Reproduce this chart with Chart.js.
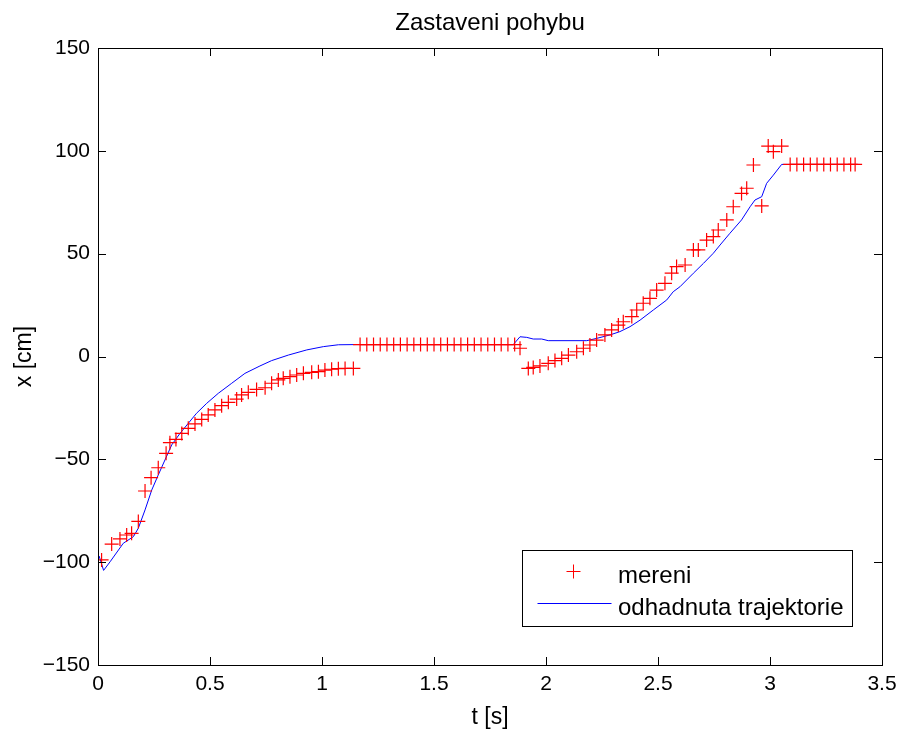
<!DOCTYPE html>
<html>
<head>
<meta charset="utf-8">
<script src="https://cdn.jsdelivr.net/npm/chart.js@4/dist/chart.umd.min.js"></script>
<style>
  html, body { margin: 0; padding: 0; background: #fff; }
  #wrap { width: 899px; height: 729px; }
</style>
</head>
<body>
<div id="wrap"><canvas id="c" width="899" height="729"></canvas></div>
<script>
// measured positions (mereni)
var measT = [0.016, 0.061, 0.098, 0.128, 0.150, 0.180, 0.210, 0.237, 0.269, 0.304, 0.321, 0.348, 0.374, 0.403, 0.433,
  0.463, 0.492, 0.522, 0.552, 0.582, 0.619, 0.641, 0.671, 0.708, 0.746, 0.775, 0.805, 0.827, 0.857, 0.887,
  0.917, 0.954, 0.984, 1.013, 1.043, 1.073, 1.103, 1.140,
  1.17, 1.20, 1.23, 1.26, 1.29, 1.32, 1.35, 1.38, 1.41, 1.44, 1.47, 1.50, 1.53, 1.56, 1.59, 1.62, 1.65, 1.68,
  1.71, 1.74, 1.77, 1.80, 1.83, 1.86, 1.884,
  1.921, 1.943, 1.973, 2.010, 2.040, 2.070, 2.100, 2.137, 2.167, 2.196, 2.226, 2.263, 2.293, 2.323, 2.345,
  2.383, 2.405, 2.434, 2.464, 2.494, 2.531, 2.561, 2.583, 2.621, 2.658, 2.680, 2.717, 2.747, 2.769, 2.807,
  2.836, 2.873, 2.896, 2.926, 2.963, 2.992, 3.015, 3.052,
  3.09, 3.12, 3.15, 3.18, 3.21, 3.24, 3.27, 3.30, 3.33, 3.36, 3.38];
var measX = [-98.9, -91.2, -88.7, -86.8, -86.0, -80.2, -65.4, -58.9, -54.1, -47.1, -41.9, -40.3, -37.4, -34.9, -32.8,
  -30.6, -28.4, -26.0, -23.9, -22.3, -20.7, -18.7, -17.4, -16.0, -15.2, -13.0, -11.4, -10.6, -9.8, -9.0,
  -8.2, -7.7, -7.4, -6.6, -6.2, -5.9, -5.8, -5.8,
  5.8, 5.8, 5.8, 5.8, 5.8, 5.8, 5.8, 5.8, 5.8, 5.8, 5.8, 5.8, 5.8, 5.8, 5.8, 5.8, 5.8, 5.8,
  5.8, 5.8, 5.8, 5.8, 5.8, 5.8, 4.0,
  -5.8, -5.3, -4.6, -3.3, -2.0, -0.9, 0.7, 2.3, 4.0, 5.6, 8.0, 10.5, 12.9, 15.3, 16.9,
  19.4, 22.6, 25.9, 28.3, 32.3, 35.6, 40.5, 43.7, 44.5, 51.8, 51.8, 56.6, 58.3, 61.5, 66.4,
  72.8, 79.3, 81.8, 93.1, 73.2, 102.3, 99.6, 102.3,
  93.4, 93.4, 93.4, 93.4, 93.4, 93.4, 93.4, 93.4, 93.4, 93.4, 93.4];

// estimated trajectory (odhadnuta trajektorie)
var estT = [0.005, 0.025, 0.054, 0.113, 0.158, 0.180, 0.210, 0.240, 0.269, 0.299, 0.329, 0.366, 0.403, 0.440,
  0.485, 0.537, 0.597, 0.656, 0.723, 0.775, 0.850, 0.932, 1.006, 1.073, 1.155, 1.854, 1.884, 1.914, 1.943,
  1.981, 2.010, 2.182, 2.226, 2.286, 2.330, 2.375, 2.420, 2.479, 2.539, 2.568, 2.598, 2.658, 2.703, 2.747,
  2.777, 2.821, 2.873, 2.911, 2.933, 2.963, 2.985, 3.015, 3.052, 3.400];
var estX = [-97, -104, -99.8, -90.8, -87.6, -83.5, -74.6, -64.9, -57.6, -50.3, -43.0, -37.4, -32.5, -27.6,
  -22.8, -17.9, -13.0, -8.2, -4.6, -2.0, 0.7, 3.2, 4.8, 5.7, 5.8, 5.8, 9.6, 9.3, 8.5,
  8.5, 7.7, 7.7, 8.8, 10.5, 12.1, 14.5, 17.7, 22.6, 27.5, 31.5, 33.9, 40.5, 45.3, 50.2,
  54.2, 59.9, 66.4, 72.8, 76.1, 77.7, 84.2, 88.2, 93.4, 93.4];

var seriesNames = ["mereni", "odhadnuta trajektorie"];
var chartTitle = "Zastaveni pohybu";
var xRange = [0, 3.5], xStep = 0.5;
var yRange = [-150, 150], yStep = 50;

var FONT = "'Liberation Sans', Arial, sans-serif";

function pairs(xs, ys) {
  return xs.map(function (v, i) { return { x: v, y: ys[i] }; });
}

// MATLAB style: title, box with inward ticks on all four sides, legend inside
var matlabBox = {
  id: "matlabBox",
  afterDraw: function (chart) {
    var ctx = chart.ctx, a = chart.chartArea;
    var xs = chart.scales.x, ys = chart.scales.y;
    var len = 8;
    ctx.save();

    ctx.fillStyle = "#000";
    ctx.font = "24px " + FONT;
    ctx.textAlign = "center";
    ctx.textBaseline = "middle";
    ctx.fillText(chartTitle, (a.left + a.right) / 2, 23);

    ctx.strokeStyle = "#000";
    ctx.lineWidth = 1;
    ctx.beginPath();
    xs.ticks.forEach(function (t) {
      var px = Math.round(xs.getPixelForValue(t.value)) + 0.5;
      ctx.moveTo(px, a.bottom); ctx.lineTo(px, a.bottom - len);
      ctx.moveTo(px, a.top); ctx.lineTo(px, a.top + len);
    });
    ys.ticks.forEach(function (t) {
      var py = Math.round(ys.getPixelForValue(t.value)) + 0.5;
      ctx.moveTo(a.left, py); ctx.lineTo(a.left + len, py);
      ctx.moveTo(a.right, py); ctx.lineTo(a.right - len, py);
    });
    ctx.stroke();
    ctx.strokeRect(Math.round(a.left) + 0.5, Math.round(a.top) + 0.5,
      Math.round(a.right - a.left), Math.round(a.bottom - a.top));

    // legend box
    var bw = 330, bh = 76;
    var bx = Math.round(a.right - 30 - bw) + 0.5, by = Math.round(a.bottom - 39 - bh) + 0.5;
    ctx.fillStyle = "#fff";
    ctx.fillRect(bx, by, bw, bh);
    ctx.strokeRect(bx, by, bw, bh);
    ctx.strokeStyle = "#ff0000";
    ctx.beginPath();
    ctx.moveTo(bx + 44, by + 21); ctx.lineTo(bx + 58, by + 21);
    ctx.moveTo(bx + 51, by + 14); ctx.lineTo(bx + 51, by + 28);
    ctx.stroke();
    ctx.strokeStyle = "#0000ff";
    ctx.beginPath();
    ctx.moveTo(bx + 15, by + 53); ctx.lineTo(bx + 89, by + 53);
    ctx.stroke();
    ctx.fillStyle = "#000";
    ctx.font = "24px " + FONT;
    ctx.textBaseline = "alphabetic";
    ctx.textAlign = "left";
    ctx.fillText(seriesNames[0], bx + 95.5, by + 32);
    ctx.fillText(seriesNames[1], bx + 95.5, by + 64);
    ctx.restore();
  }
};

var fmtTick = function (v) { return String(v).replace("-", "\u2212"); };

new Chart(document.getElementById("c"), {
  type: "scatter",
  data: {
    datasets: [
      {
        label: seriesNames[0],
        data: pairs(measT, measX),
        pointStyle: "cross",
        pointRadius: 7,
        pointHoverRadius: 7,
        pointBorderWidth: 1.2,
        borderColor: "#ff0000",
        backgroundColor: "#ff0000",
        showLine: false,
      },
      {
        label: seriesNames[1],
        data: pairs(estT, estX),
        showLine: true,
        borderColor: "#0000ff",
        borderWidth: 1,
        pointRadius: 0,
        fill: false,
        tension: 0,
      },
    ],
  },
  options: {
    responsive: false,
    animation: false,
    events: [],
    layout: { padding: { left: 0, right: 17, top: 48, bottom: 0 } },
    plugins: {
      legend: { display: false },
      tooltip: { enabled: false },
      title: { display: false },
    },
    scales: {
      x: {
        type: "linear",
        min: xRange[0],
        max: xRange[1],
        grid: { display: false, drawTicks: false },
        border: { display: false },
        ticks: { stepSize: xStep, color: "#000", padding: 7, font: { family: FONT, size: 21 }, maxRotation: 0, callback: fmtTick },
        title: { display: true, text: "t [s]", color: "#000", font: { family: FONT, size: 23 }, padding: { top: 0, bottom: -2 } },
        afterFit: function (s) { s.height = 64; s.paddingLeft = 0; s.paddingRight = 0; },
      },
      y: {
        type: "linear",
        min: yRange[0],
        max: yRange[1],
        grid: { display: false, drawTicks: false },
        border: { display: false },
        ticks: { stepSize: yStep, color: "#000", padding: 8, font: { family: FONT, size: 21 }, callback: fmtTick },
        title: { display: true, text: "x [cm]", color: "#000", font: { family: FONT, size: 23 }, padding: { top: 11, bottom: 0 } },
        afterFit: function (s) { s.width = 98; s.paddingTop = 0; s.paddingBottom = 0; },
      },
    },
  },
  plugins: [matlabBox],
});
</script>
</body>
</html>
